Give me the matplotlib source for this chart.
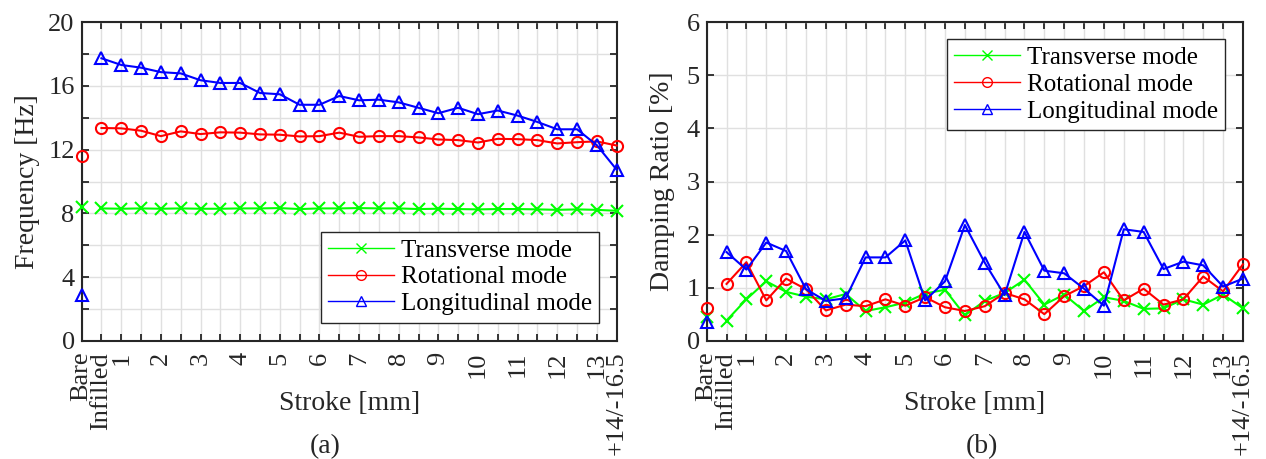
import numpy as np
import matplotlib
matplotlib.use('Agg')
import matplotlib.pyplot as plt
from matplotlib.ticker import FixedLocator, FuncFormatter

plt.rcParams['font.family'] = ['Liberation Serif', 'DejaVu Serif']

# categories along the stroke axis
strokes = ['Bare', 'Infilled', '1', '1.5', '2', '2.5', '3', '3.5', '4', '4.5', '5',
           '5.5', '6', '6.5', '7', '7.5', '8', '8.5', '9', '9.5', '10', '10.5',
           '11', '11.5', '12', '12.5', '13', '+14/-16.5']
tick_labels = [s if ('.' not in s or s.startswith('+')) else '' for s in strokes]

# (a) frequency [Hz]
freq_trans = [8.40, 8.31, 8.29, 8.31, 8.29, 8.31, 8.29, 8.29, 8.31, 8.31, 8.33,
              8.27, 8.31, 8.31, 8.33, 8.31, 8.31, 8.27, 8.29, 8.27, 8.25, 8.27,
              8.27, 8.25, 8.22, 8.25, 8.22, 8.16]
freq_rot = [11.59, 13.36, 13.34, 13.19, 12.85, 13.15, 12.98, 13.09, 13.07, 12.96,
            12.94, 12.83, 12.85, 13.07, 12.81, 12.85, 12.85, 12.77, 12.64, 12.60,
            12.45, 12.68, 12.66, 12.60, 12.39, 12.47, 12.52, 12.26]
freq_long = [2.9, 17.74, 17.32, 17.15, 16.87, 16.79, 16.36, 16.19, 16.19, 15.56,
             15.48, 14.82, 14.82, 15.37, 15.10, 15.14, 14.97, 14.63, 14.29, 14.63,
             14.23, 14.46, 14.14, 13.74, 13.28, 13.28, 12.28, 10.74]

# (b) damping ratio [%]
damp_trans = [0.45, 0.38, 0.78, 1.12, 0.92, 0.83, 0.78, 0.88, 0.56, 0.63, 0.72,
              0.89, 0.96, 0.48, 0.75, 0.90, 1.15, 0.68, 0.87, 0.56, 0.82, 0.75,
              0.60, 0.61, 0.78, 0.68, 0.87, 0.61]
damp_rot = [0.62, 1.07, 1.48, 0.76, 1.17, 0.97, 0.57, 0.68, 0.65, 0.78, 0.66,
            0.82, 0.63, 0.56, 0.65, 0.90, 0.78, 0.50, 0.84, 1.03, 1.29, 0.76,
            0.98, 0.68, 0.78, 1.21, 0.93, 1.44]
damp_long = [0.36, 1.67, 1.34, 1.85, 1.69, 0.97, 0.75, 0.80, 1.57, 1.57, 1.89,
             0.76, 1.12, 2.18, 1.47, 0.86, 2.05, 1.32, 1.27, 0.98, 0.66, 2.10,
             2.05, 1.35, 1.49, 1.42, 1.02, 1.17]

green = (0, 1, 0)
series_style = [('Transverse mode', green, 'x'),
                ('Rotational mode', 'red', 'o'),
                ('Longitudinal mode', 'blue', '^')]
dark = '#262626'

fig = plt.figure(figsize=(12.66, 4.59), dpi=100)
ax_a = fig.add_axes([0.0645, 0.2577, 0.4226, 0.6937])
ax_b = fig.add_axes([0.5582, 0.2577, 0.4236, 0.6937])

x = np.arange(len(strokes))


def draw(ax, data):
    for (name, col, mk), y in zip(series_style, data):
        # Bare specimen shown as an isolated marker
        ax.plot(x[:1], y[:1], ls='none', marker=mk, color=col, mfc='none',
                ms=8, mew=1.5, clip_on=False, zorder=3)
        ax.plot(x[1:], y[1:], ls='-', lw=1.5, marker=mk, color=col, mfc='none',
                ms=8, mew=1.5, clip_on=False, label=name, zorder=3)
    ax.set_xlim(0, len(strokes) - 1)
    ax.set_xticks(x)
    ax.set_xticklabels(tick_labels, rotation=90, fontsize=19)
    ax.tick_params(direction='in', top=True, right=True, length=5, width=1.3,
                   labelsize=19, colors=dark)
    ax.tick_params(axis='x', pad=8)
    ax.tick_params(axis='y', pad=5)
    ax.grid(True, color='#e0e0e0', lw=1.0)
    ax.set_axisbelow(True)
    for sp in ax.spines.values():
        sp.set_linewidth(1.5)
        sp.set_color(dark)
    ax.set_xlabel('Stroke [mm]', fontsize=20, color=dark)
    ax.xaxis.set_label_coords(0.5, -0.196)
    ax.xaxis.label.set_va('center')


def legend(ax, loc, anchor):
    lg = ax.legend(loc=loc, bbox_to_anchor=anchor, fontsize=18,
                   fancybox=False, edgecolor=dark, framealpha=1,
                   borderpad=0.3, labelspacing=0.17, handlelength=2.65,
                   handletextpad=0.25, borderaxespad=0)
    lg.get_frame().set_linewidth(1.0)
    for h in lg.get_lines():
        h.set_linewidth(1.0)
        h.set_markersize(7)
        h.set_markeredgewidth(1.0)
    return lg


draw(ax_a, [freq_trans, freq_rot, freq_long])
ax_a.set_ylim(0, 20)
ax_a.yaxis.set_major_locator(FixedLocator(np.arange(0, 21, 2)))
ax_a.yaxis.set_major_formatter(FuncFormatter(lambda v, p: '%d' % v if v % 4 == 0 else ''))
ax_a.set_ylabel('Frequency [Hz]', fontsize=20, color=dark, labelpad=6)
legend(ax_a, 'lower right', (0.9675, 0.057))

draw(ax_b, [damp_trans, damp_rot, damp_long])
ax_b.set_ylim(0, 6)
ax_b.set_yticks(np.arange(0, 7, 1))
ax_b.set_ylabel('Damping Ratio [%]', fontsize=20, color=dark, labelpad=8)
legend(ax_b, 'upper right', (0.967, 0.947))

fig.text(0.257, 0.026, '(a)', ha='center', va='center', fontsize=20, color=dark)
fig.text(0.776, 0.026, '(b)', ha='center', va='center', fontsize=20, color=dark)

fig.savefig('out.png', dpi=100)
